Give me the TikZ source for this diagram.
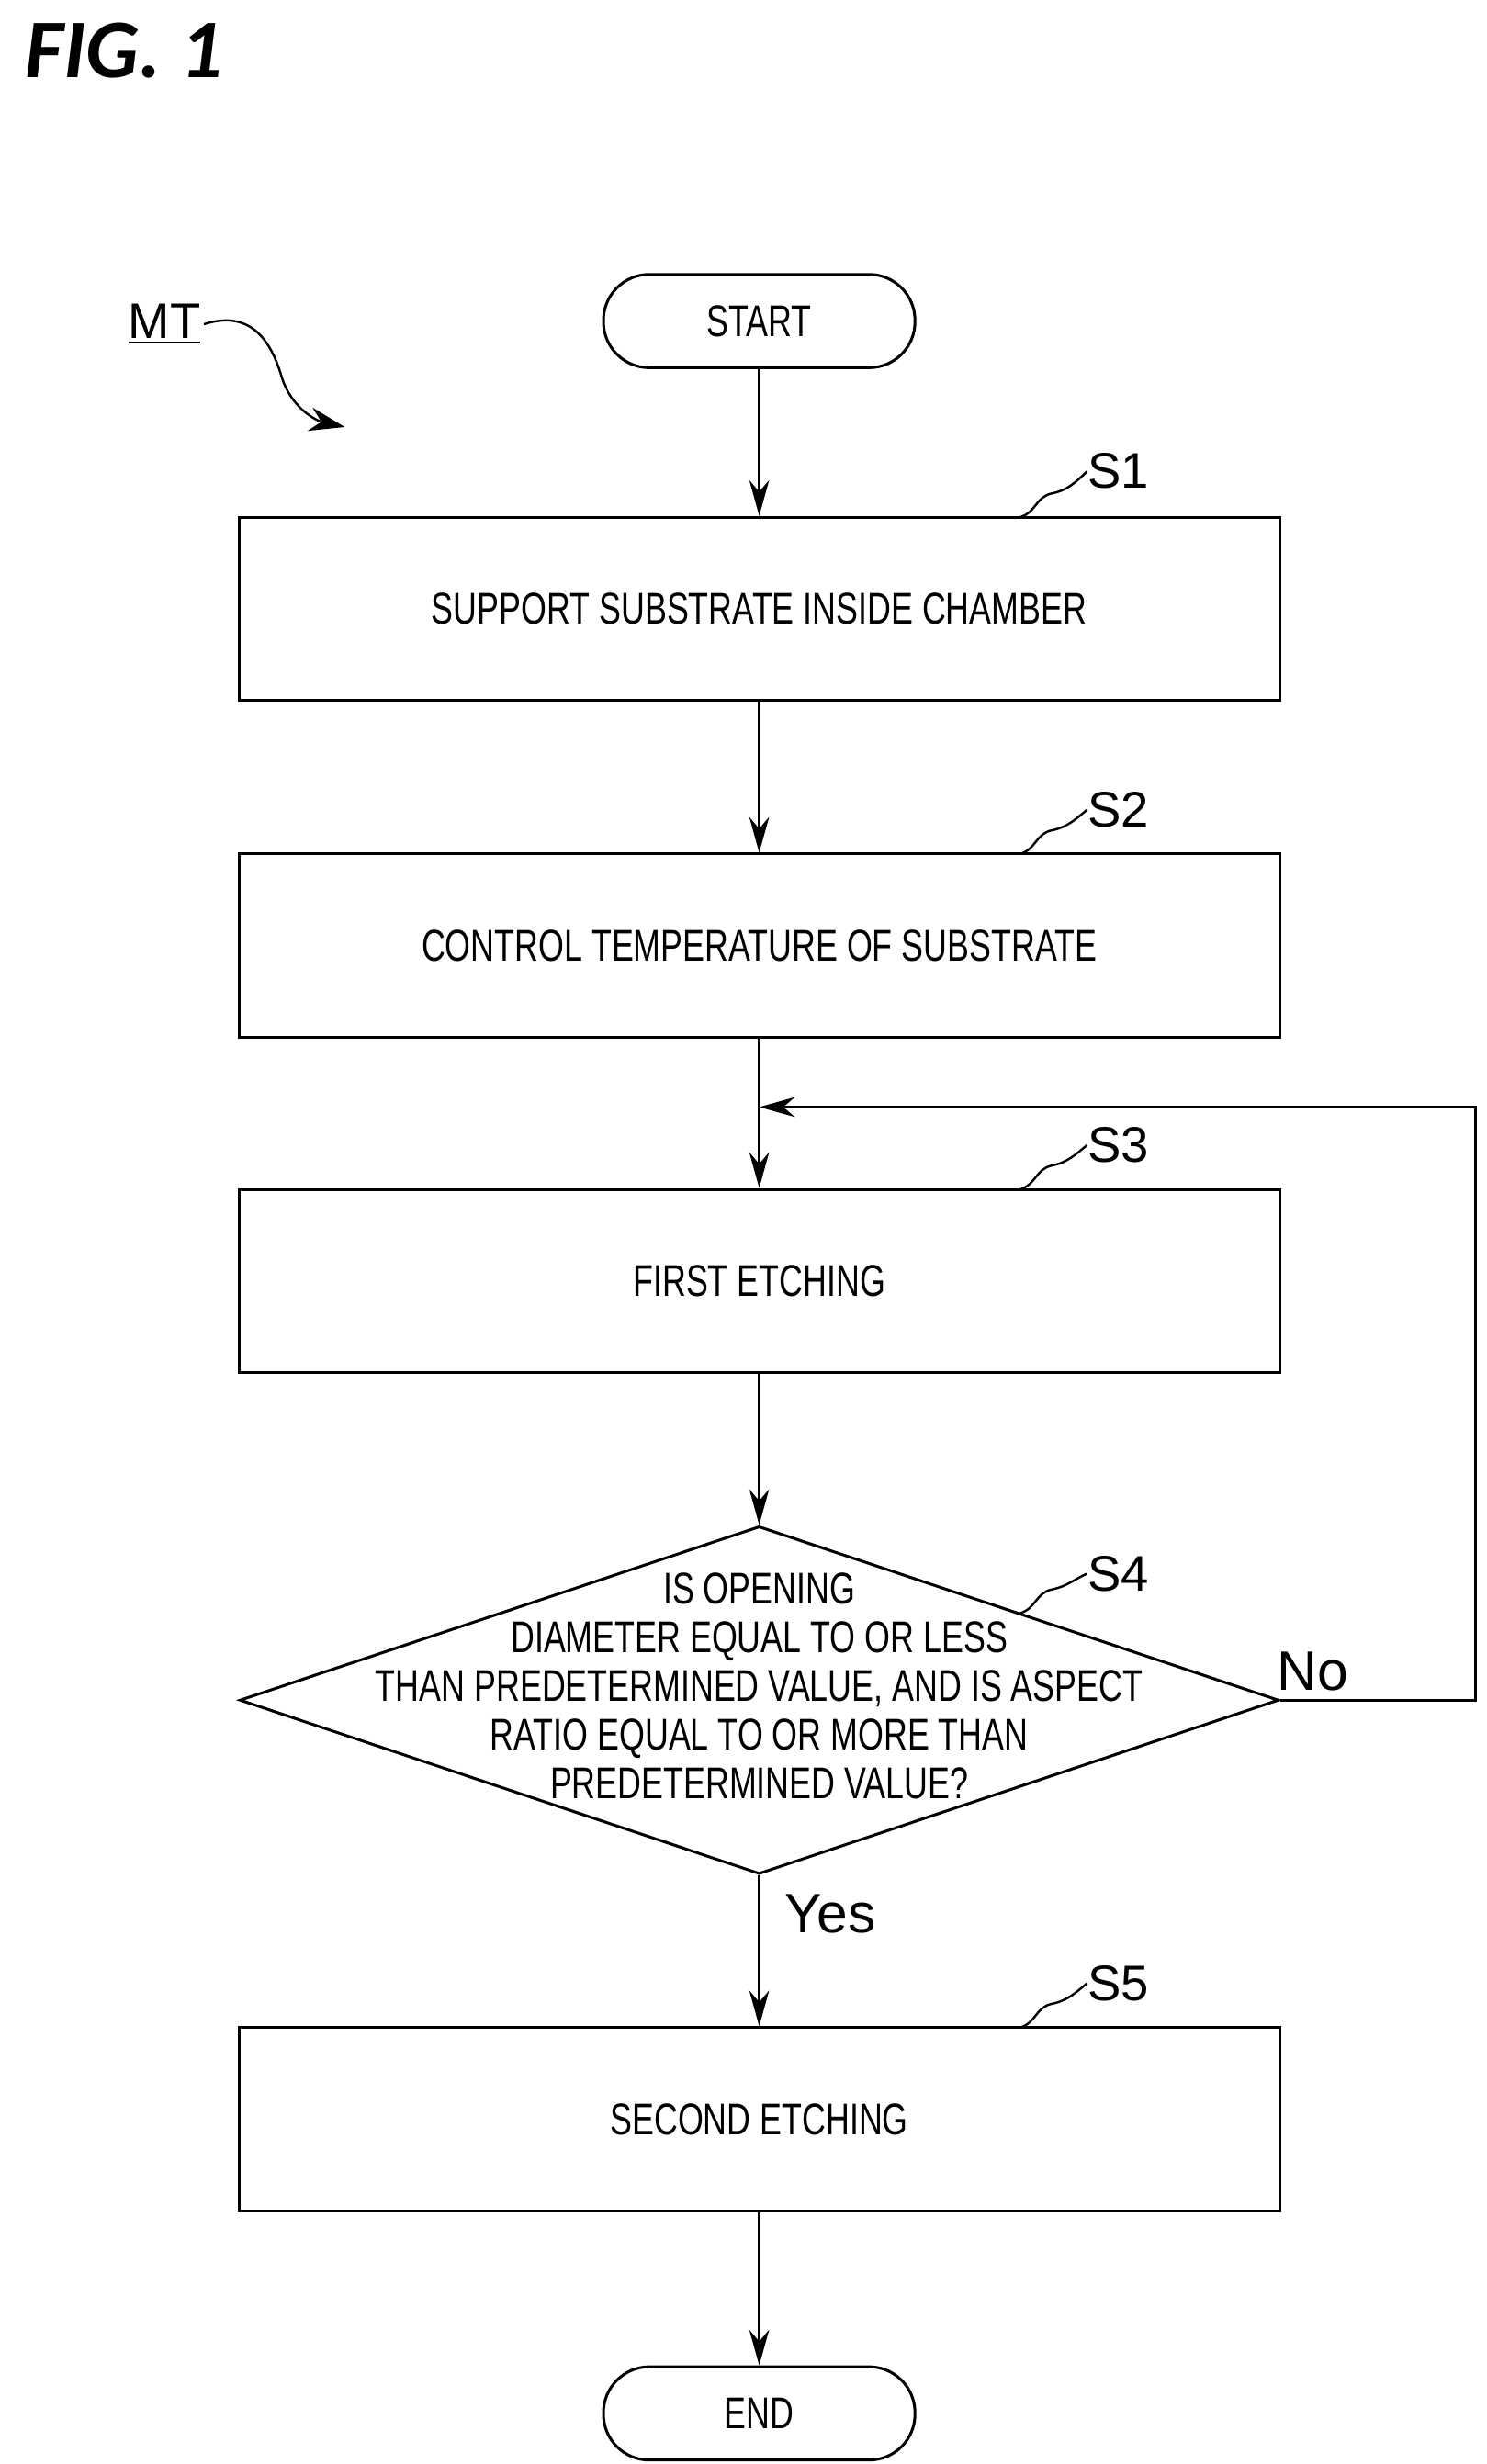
\documentclass[tikz,border=0pt]{standalone}
\usepackage{fontspec}
\setmainfont[FakeStretch=0.74]{Liberation Sans}
\newfontfamily\labelfont{Liberation Sans}
\newfontfamily\figfont{Carlito}
\usetikzlibrary{shapes.geometric, arrows.meta}
\tikzstyle{steprect} = [rectangle,
minimum width=13.16cm,
minimum height=2.32cm,
text centered,
line width=1pt,
draw=black]
\tikzstyle{termround} = [rectangle, rounded corners=0.58cm,
minimum width=3.94cm,
minimum height=1.18cm,
line width=1pt,
draw=black]
\tikzstyle{steplabel} = [font=\labelfont\fontsize{18}{18}\selectfont, inner sep=0pt]
\tikzstyle{flow} = [-{Stealth[length=0.45cm,width=0.25cm]}, line width=1pt]

\begin{document}
\begin{tikzpicture}[x=0.02cm, y=-0.02cm, font=\fontsize{16}{17.5}\selectfont]
		\useasboundingbox (0,0) rectangle (940,1558);
		\node (fig) [font=\figfont\bfseries\itshape\fontsize{30}{30}\selectfont, anchor=west] at (10,32) {FIG. 1};
		\node (mt) [font=\labelfont\fontsize{18}{18}\selectfont, inner sep=1pt] at (104,205) {\underline{MT}};
		\coordinate (mtend) at (218,270);

		\node (start) [termround] at (480,203) {START};
		\node (s1) [steprect] at (480,385) {SUPPORT SUBSTRATE INSIDE CHAMBER};
		\node (s2) [steprect] at (480,598) {CONTROL TEMPERATURE OF SUBSTRATE};
		\node (s3) [steprect] at (480,810) {FIRST ETCHING};
		\node (s4) [diamond, draw=black, line width=1pt, minimum width=13.14cm, minimum height=4.4cm, inner sep=0pt] at (480,1075) {};
		\node (s4text) [align=center, inner sep=0pt] at (480,1066) {IS OPENING\\DIAMETER EQUAL TO OR LESS\\THAN PREDETERMINED VALUE, AND IS ASPECT\\RATIO EQUAL TO OR MORE THAN\\PREDETERMINED VALUE?};
		\node (s5) [steprect] at (480,1340) {SECOND ETCHING};
		\node (end) [termround] at (480,1526) {END};

		\node (l1) [steplabel] at (707,298) {S1};
		\node (l2) [steplabel] at (707,512) {S2};
		\node (l3) [steplabel] at (707,724) {S3};
		\node (l4) [steplabel] at (707,995) {S4};
		\node (l5) [steplabel] at (707,1254) {S5};
		\node (no) [steplabel, font=\labelfont\fontsize{20}{20}\selectfont] at (830,1057) {No};
		\node (yes) [steplabel, font=\labelfont\fontsize{20}{20}\selectfont] at (525,1210) {Yes};

		\coordinate (loopa) at (933,1075);
		\coordinate (loopb) at (933,700);
		\coordinate (loopc) at (480,700);

		\draw [flow](start) -- (s1);
		\draw [flow](s1) -- (s2);
		\draw [flow](s2) -- (s3);
		\draw [flow](s3) -- (s4);
		\draw [flow](s4) -- (s5);
		\draw [flow](s5) -- (end);
		\draw [flow](s4.east) -- (loopa) -- (loopb) -- (loopc);

		% leader ticks
		\foreach \s/\y in {1/327, 2/540, 3/752, 4/1020, 5/1282}
			\draw [line width=0.8pt] (645,\y) .. controls (655,\y-3) and (655,\y-13) .. (665,\y-15) .. controls (675,\y-17) and (680,\y-22) .. (l\s.west);
		\draw [-{Stealth[length=0.45cm,width=0.3cm]}, line width=0.8pt] (mt.east) .. controls (160,195) and (172,218) .. (178,238) .. controls (184,258) and (200,266) .. (mtend);
	\end{tikzpicture}
\end{document}
